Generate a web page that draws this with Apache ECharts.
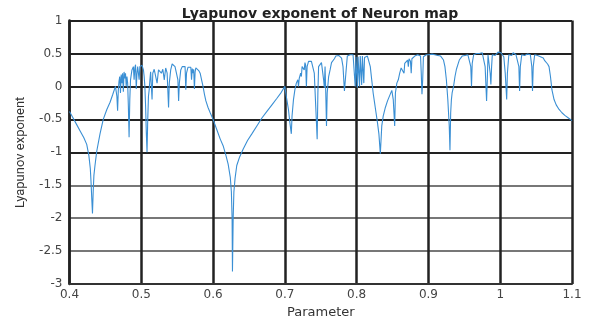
<!DOCTYPE html>
<html>
<head>
<meta charset="utf-8">
<script src="https://cdn.jsdelivr.net/npm/echarts@6/dist/echarts.min.js"></script>
<style>html,body{margin:0;padding:0;background:#fff;}#c{width:591px;height:324px;}</style>
</head>
<body>
<div id="c"></div>
<script>
const titleText = 'Lyapunov exponent of Neuron map';
const xName = 'Parameter';
const yName = 'Lyapunov exponent';
const xTicks = [0.4, 0.5, 0.6, 0.7, 0.8, 0.9, 1.0, 1.1];
const yTicks = [-3, -2.5, -2, -1.5, -1, -0.5, 0, 0.5, 1];

const params = [
0.400,0.405,0.410,0.415,0.420,0.424,0.427,0.429,0.430,0.431,0.432,0.433,0.434,0.4355,0.438,0.4425,0.447,0.452,0.4565,0.460,0.464,
0.465,0.466,0.467,0.468,0.469,0.470,0.471,0.472,0.473,0.474,0.475,0.476,0.477,0.478,0.479,0.480,0.481,0.482,0.483,0.484,0.485,0.487,0.489,0.490,0.491,0.492,0.493,0.494,0.495,0.496,0.497,0.498,0.499,0.500,0.501,0.502,0.503,0.504,0.505,0.506,0.507,0.508,0.509,0.510,0.511,0.512,0.513,0.514,0.515,0.516,0.518,0.520,0.522,0.524,0.526,0.528,0.530,0.532,0.534,0.536,0.538,0.539,0.541,0.543,0.545,0.547,0.549,0.551,0.552,0.553,0.555,0.557,0.559,0.561,0.562,0.563,0.565,0.567,0.569,0.570,0.571,0.572,0.573,0.574,0.575,0.576,0.577,0.578,0.580,0.582,0.584,0.586,0.588,0.590,0.593,0.596,0.600,
0.605,0.610,0.614,0.618,0.621,0.624,0.6255,0.6265,0.627,0.628,0.629,0.6306,0.633,0.637,0.642,0.648,0.654,0.661,0.668,0.675,0.682,0.689,0.695,0.700,
0.702,0.705,0.707,0.709,0.710,0.712,0.714,0.716,0.718,0.719,0.720,0.722,0.723,0.724,0.726,0.727,0.728,0.729,0.730,0.731,0.733,0.735,0.737,0.739,0.741,0.743,0.745,0.746,0.747,0.749,0.751,0.753,0.754,0.755,0.756,0.757,0.758,0.759,0.761,0.763,0.765,0.767,0.769,0.771,0.773,0.775,0.777,0.779,0.781,0.783,0.785,0.787,0.789,0.791,0.793,0.795,0.797,0.798,0.799,0.800,0.801,0.802,0.803,0.804,0.805,0.806,0.807,0.808,0.809,0.810,0.811,0.813,0.815,0.817,0.819,0.821,0.823,0.825,0.827,0.829,0.831,0.833,0.835,0.837,0.840,0.843,0.846,0.849,0.851,0.853,0.854,0.856,0.858,0.860,0.862,0.864,0.866,0.867,0.869,0.871,0.872,0.873,0.875,0.876,0.877,0.879,0.881,0.883,0.885,0.887,0.889,0.890,0.891,0.892,0.893,0.895,0.897,0.899,0.901,0.903,0.905,0.907,0.909,0.911,0.913,0.915,0.917,0.919,0.921,0.923,0.925,0.927,0.929,0.930,0.931,0.932,0.933,0.935,0.937,0.939,0.941,0.943,0.945,0.947,0.949,0.951,0.953,0.955,0.957,0.959,0.960,0.961,0.963,0.965,0.967,0.969,0.971,0.973,0.975,0.977,0.979,0.981,0.982,0.983,0.985,0.986,0.987,0.988,0.989,0.991,0.993,0.995,0.997,0.999,1.001,1.003,1.005,1.007,1.009,1.010,1.012,1.014,1.016,1.018,1.020,1.022,1.024,1.026,1.027,1.028,1.030,1.032,1.034,1.036,1.038,1.040,1.042,1.044,1.045,1.046,1.048,1.050,1.052,1.054,1.056,1.058,1.060,1.062,1.064,1.066,1.068,1.070,1.072,1.075,1.078,1.082,1.086,1.090,1.095,1.100
];

const lyap = [
-0.38,-0.48,-0.58,-0.68,-0.78,-0.88,-1.05,-1.25,-1.45,-1.7,-1.93,-1.6,-1.35,-1.2,-0.98,-0.72,-0.5,-0.35,-0.24,-0.13,0.0,
0.02,-0.15,-0.37,-0.05,0.08,0.15,-0.1,0.18,0.05,0.2,-0.08,0.22,0.12,0.2,0.0,0.15,0.05,-0.3,-0.77,-0.2,0.1,0.25,0.3,0.1,0.28,0.33,-0.04,0.2,0.3,0.32,0.1,0.3,0.33,0.28,0.32,0.3,0.25,0.15,0.0,-0.3,-0.7,-1.0,-0.5,-0.15,-0.05,0.1,0.22,0.25,-0.2,0.2,0.26,0.27,0.05,0.25,0.27,0.2,0.26,0.1,0.28,0.2,-0.32,0.05,0.25,0.34,0.36,0.3,0.32,0.1,-0.22,0.05,0.25,0.3,0.28,0.3,-0.05,0.2,0.29,0.27,0.29,0.1,0.27,0.2,0.26,-0.04,0.22,0.28,0.25,0.27,0.24,0.2,0.1,0.0,-0.12,-0.22,-0.32,-0.4,-0.5,
-0.65,-0.8,-0.9,-1.05,-1.18,-1.38,-1.6,-2.0,-2.81,-2.0,-1.6,-1.4,-1.2,-1.07,-0.95,-0.82,-0.72,-0.6,-0.48,-0.38,-0.28,-0.18,-0.09,0.0,
-0.15,-0.35,-0.55,-0.72,-0.45,-0.2,-0.05,0.05,0.1,0.0,0.12,0.2,0.15,0.3,0.33,0.25,0.36,0.32,0.0,0.3,0.38,0.35,0.38,0.36,0.2,-0.3,-0.8,-0.1,0.3,0.33,0.36,0.34,0.1,-0.02,0.3,-0.1,-0.6,-0.1,0.15,0.25,0.36,0.38,0.42,0.46,0.44,0.47,0.45,0.43,0.3,-0.07,0.2,0.46,0.44,0.48,0.46,0.48,0.45,0.0,0.45,0.47,-0.02,0.45,0.48,0.0,0.46,0.47,0.02,0.46,0.44,0.05,0.44,0.47,0.46,0.44,0.3,0.1,-0.1,-0.25,-0.4,-0.55,-0.72,-1.02,-0.6,-0.45,-0.32,-0.22,-0.14,-0.06,-0.2,-0.6,-0.1,0.05,0.1,0.2,0.28,0.3,0.2,0.35,0.38,0.4,0.3,0.42,0.38,0.2,0.42,0.44,0.46,0.45,0.48,0.47,0.46,0.2,-0.12,0.1,0.45,0.47,0.48,0.5,0.48,0.5,0.49,0.51,0.48,0.5,0.47,0.5,0.46,0.43,0.4,0.3,0.1,-0.2,-0.6,-0.97,-0.4,-0.2,-0.1,0.0,0.15,0.26,0.33,0.4,0.43,0.46,0.44,0.47,0.45,0.48,0.46,0.3,0.0,0.35,0.48,0.47,0.5,0.52,0.5,0.53,0.51,0.49,0.3,-0.22,0.1,0.48,0.45,0.2,0.03,0.3,0.48,0.5,0.47,0.5,0.52,0.49,0.51,0.48,0.45,0.2,-0.2,0.2,0.48,0.5,0.47,0.51,0.5,0.48,0.5,0.3,-0.07,0.3,0.48,0.5,0.47,0.5,0.49,0.47,0.48,0.3,-0.07,0.3,0.48,0.46,0.47,0.44,0.45,0.42,0.43,0.39,0.38,0.34,0.3,0.15,-0.05,-0.2,-0.28,-0.35,-0.4,-0.44,-0.48,-0.52
];

const data = params.map((p, i) => [p, lyap[i]]);

const chart = echarts.init(document.getElementById('c'), null, {renderer: 'canvas'});
chart.setOption({
  animation: false,
  backgroundColor: '#fff',
  title: {
    text: titleText, left: 315, top: 2, textAlign: 'center',
    textStyle: {fontFamily: 'DejaVu Sans', fontSize: 14, fontWeight: 'bold', color: '#222'}
  },
  grid: {left: 69.5, right: 19, top: 20.5, bottom: 38, containLabel: false},
  xAxis: {
    type: 'value', min: xTicks[0], max: xTicks[xTicks.length - 1], interval: 0.1,
    name: xName, nameLocation: 'middle', nameGap: 17,
    nameTextStyle: {fontFamily: 'DejaVu Sans', fontSize: 13, color: '#333'},
    axisLine: {show: true, onZero: false, lineStyle: {color: '#333', width: 2}},
    axisTick: {show: false},
    axisLabel: {fontFamily: 'DejaVu Sans', fontSize: 12, color: '#444', margin: 5,
      formatter: v => String(Math.round(v * 10) / 10)},
    splitLine: {show: true, lineStyle: {color: '#222', width: 2.5}}
  },
  yAxis: {
    type: 'value', min: yTicks[0], max: yTicks[yTicks.length - 1], interval: 0.5,
    name: yName, nameLocation: 'middle', nameGap: 42, nameRotate: 90,
    nameTextStyle: {fontFamily: 'Roboto', fontSize: 13, color: '#333'},
    axisLine: {show: true, onZero: false, lineStyle: {color: '#222', width: 2.5}},
    axisTick: {show: false},
    axisLabel: {fontFamily: 'DejaVu Sans', fontSize: 12, color: '#444', margin: 7},
    splitLine: {show: true, lineStyle: {color: ['#555', '#777', '#777', '#777', '#222', '#222', '#222', '#222', '#222'], width: 2}}
  },
  series: [{
    type: 'line', data: data, showSymbol: false, symbol: 'none',
    lineStyle: {color: '#3a8fd4', width: 1.1},
    itemStyle: {color: '#3a8fd4'}
  }]
});
</script>
</body>
</html>
